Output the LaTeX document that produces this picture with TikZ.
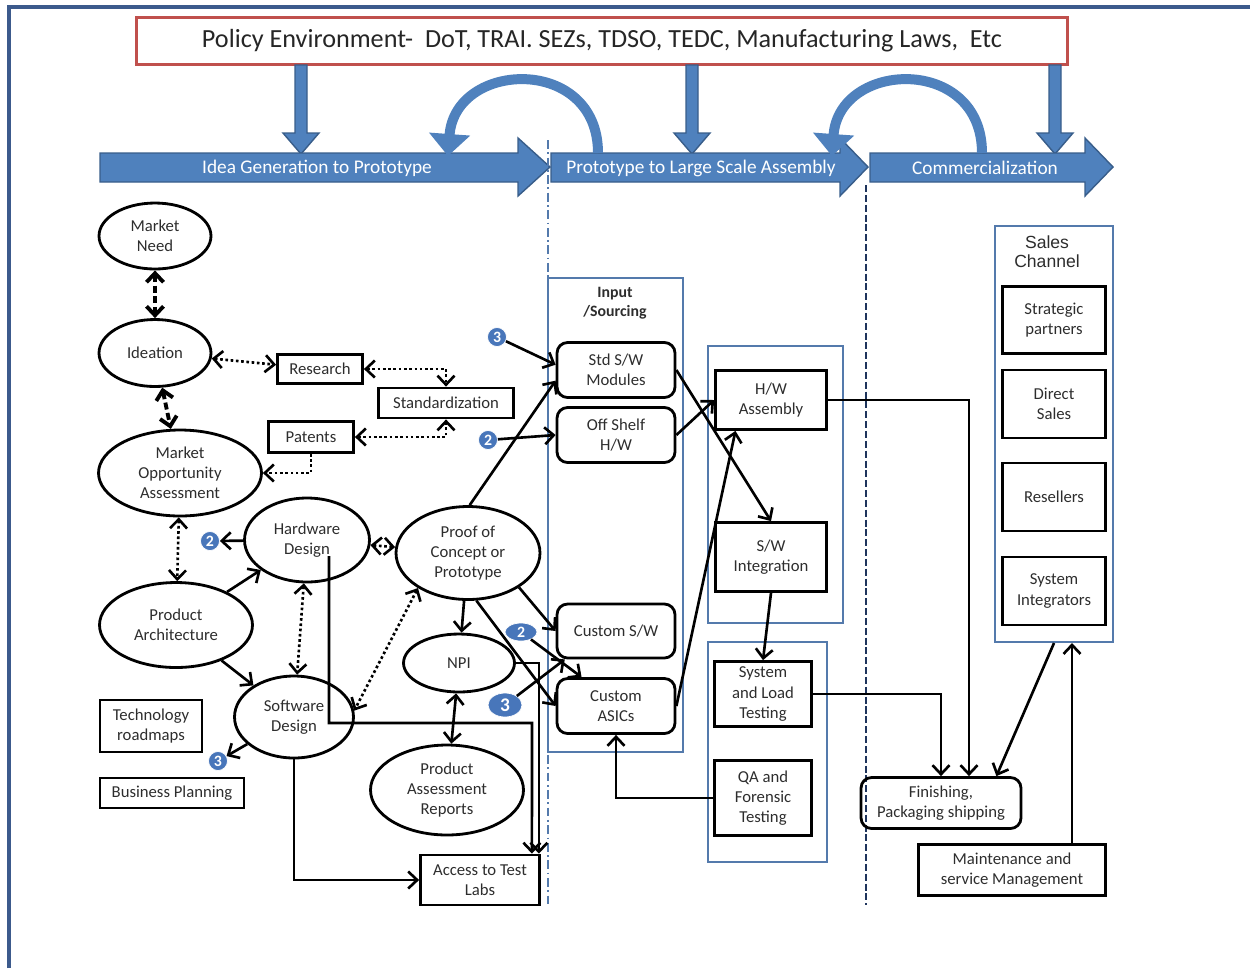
\documentclass[tikz,border=0pt]{standalone}
\usepackage{fontspec}
\setmainfont{Carlito}
\newfontfamily\arialfont{Liberation Sans}
\usetikzlibrary{calc,positioning,shapes.geometric,arrows.meta}

\definecolor{bannerblue}{RGB}{79,129,189}
\definecolor{bannerdark}{RGB}{56,93,138}
\definecolor{policyred}{RGB}{192,80,77}
\definecolor{framecol}{RGB}{60,90,140}
\definecolor{groupblue}{RGB}{84,122,172}
\definecolor{navyline}{RGB}{30,52,92}
\definecolor{badgeblue}{RGB}{72,118,186}
\definecolor{txtgray}{RGB}{45,45,45}

\begin{document}
\begin{tikzpicture}[x=0.02cm,y=-0.02cm]

    \tikzstyle{ovalnode}=[draw,ellipse,line width=1.6pt,inner sep=0pt,align=center,text=txtgray,font=\fontsize{9.5}{11.4}\selectfont]
    \tikzstyle{boxnode}=[draw,rectangle,line width=1.6pt,inner sep=1pt,align=center,text=txtgray,font=\fontsize{9.5}{11.4}\selectfont]
    \tikzstyle{roundbox}=[boxnode,rounded corners=6pt]
    \tikzstyle{groupbox}=[draw=groupblue,rectangle,line width=1.2pt,inner sep=0pt]
    \tikzstyle{badge}=[circle,fill=badgeblue,draw=white,thin,inner sep=0pt,minimum size=0.38cm,text=white,font=\fontsize{9}{10}\selectfont\bfseries]
    \tikzstyle{bannerarrow}=[fill=bannerblue,draw=bannerdark,line width=0.8pt]
    \tikzstyle{bannertext}=[text=white,font=\fontsize{11}{13}\selectfont]
    \tikzstyle{conn}=[line width=1.5pt,>={Straight Barb[length=1.8mm,width=3.4mm]}]
    \tikzstyle{dotconn}=[conn,dash pattern=on 1.5pt off 1.5pt]
    \tikzstyle{dashconn}=[conn,line width=2.2pt,dash pattern=on 4pt off 2pt]

    \useasboundingbox (0,0) rectangle (1250,968);

    % frame
    \draw[framecol,line width=0.08cm] (9,968) -- (9,7) -- (1250,7);

    % policy and stages
    \node (policy) [draw=policyred,line width=0.06cm,fill=white,minimum width=18.62cm,minimum height=0.94cm,font=\fontsize{14.9}{16}\selectfont,text=black!85] at (602,41) {Policy Environment-\ \ DoT, TRAI. SEZs, TDSO, TEDC, Manufacturing Laws,\ \ Etc};

    \foreach \xa in {301,692,1055}
        \filldraw[bannerarrow] (\xa-6,65) -- (\xa+6,65) -- (\xa+6,133) -- (\xa+18,133) -- (\xa,154) -- (\xa-18,133) -- (\xa-6,133) -- cycle;

    \filldraw[bannerarrow] (100,153) -- (518,153) -- (518,138) -- (550,167) -- (518,196) -- (518,182) -- (100,182) -- cycle;
    \filldraw[bannerarrow] (551,153) -- (840,153) -- (840,138) -- (868,167) -- (840,196) -- (840,182) -- (551,182) -- cycle;
    \filldraw[bannerarrow] (870,153) -- (1085,153) -- (1085,138) -- (1113,167) -- (1085,196) -- (1085,182) -- (870,182) -- cycle;

    \node (stage_1) [bannertext] at (317,168) {Idea Generation to Prototype};
    \node (stage_2) [bannertext] at (701,168) {Prototype to Large Scale Assembly};
    \node (stage_3) [bannertext] at (985,168) {Commercialization};

    \draw[bannerblue,line width=0.2cm,-{Triangle[length=0.44cm,width=0.8cm]}] (598,153) .. controls (598,55) and (455,60) .. (448,156);
    \draw[bannerblue,line width=0.2cm,-{Triangle[length=0.44cm,width=0.8cm]}] (982,153) .. controls (982,55) and (839,60) .. (832,156);

    \draw[groupblue,line width=1pt,dash pattern=on 5pt off 2pt on 1pt off 2pt] (548,140) -- (548,905);
    \draw[navyline,line width=1.6pt,dash pattern=on 4pt off 1.6pt] (866,185) -- (866,905);

    % idea generation
    \node (market_need) [ovalnode,minimum width=2.24cm,minimum height=1.32cm] at (155,236) {Market\\Need};
    \node (ideation) [ovalnode,minimum width=2.24cm,minimum height=1.34cm] at (155,353) {Ideation};
    \node (market_opp) [ovalnode,minimum width=3.26cm,minimum height=1.72cm] at (180,473) {Market\\Opportunity\\Assessment};
    \node (hw_design) [ovalnode,minimum width=2.5cm,minimum height=1.68cm] at (307,540) {Hardware\\Design};
    \node (poc) [ovalnode,minimum width=2.88cm,minimum height=1.86cm] at (468,553) {Proof of\\Concept or\\Prototype};
    \node (prod_arch) [ovalnode,minimum width=3.06cm,minimum height=1.7cm] at (176,625) {Product\\Architecture};
    \node (npi) [ovalnode,minimum width=2.22cm,minimum height=1.16cm] at (459,663) {NPI};
    \node (sw_design) [ovalnode,minimum width=2.38cm,minimum height=1.64cm] at (294,717) {Software\\Design};
    \node (par) [ovalnode,minimum width=3.06cm,minimum height=1.8cm] at (447,790) {Product\\Assessment\\Reports};

    \node (research) [boxnode,minimum width=1.7cm,minimum height=0.58cm] at (320,369) {Research};
    \node (standard) [boxnode,minimum width=2.7cm,minimum height=0.6cm] at (446,403) {Standardization};
    \node (patents) [boxnode,minimum width=1.7cm,minimum height=0.62cm] at (311,437) {Patents};
    \node (tech_road) [boxnode,minimum width=2.04cm,minimum height=1.04cm] at (151,726) {Technology\\roadmaps};
    \node (bus_plan) [boxnode,minimum width=2.88cm,minimum height=0.6cm] at (172,793) {Business Planning};
    \node (test_labs) [boxnode,minimum width=2.38cm,minimum height=1cm] at (480,880) {Access to Test\\Labs};

    \node (num3_std) [badge] at (497,337) {3};
    \node (num2_off) [badge] at (488,440) {2};
    \node (num2_hw) [badge] at (210,541) {2};
    \node (num2_asic) [badge,ellipse,minimum width=0.64cm,minimum height=0.36cm] at (521,632) {2};
    \node (num3_csw) [badge,ellipse,minimum width=0.68cm,minimum height=0.48cm,font=\fontsize{11}{12}\selectfont\bfseries] at (505,705) {3};
    \node (num3_swd) [badge] at (218,761) {3};

    % large scale assembly
    \node (input_box) [groupbox,minimum width=2.7cm,minimum height=9.48cm] at (615.5,515) {};
    \node (input_title) [align=center,text=txtgray,font=\fontsize{9}{11}\selectfont\bfseries] at (615,303) {Input\\/Sourcing};
    \node (std_sw) [roundbox,minimum width=2.36cm,minimum height=1.1cm] at (616,370) {Std S/W\\Modules};
    \node (off_shelf) [roundbox,minimum width=2.36cm,minimum height=1.1cm] at (616,435) {Off Shelf\\H/W};
    \node (custom_sw) [roundbox,minimum width=2.36cm,minimum height=1.08cm] at (616,631) {Custom S/W};
    \node (custom_asic) [roundbox,minimum width=2.36cm,minimum height=1.1cm] at (616,706) {Custom\\ASICs};

    \node (assembly_box) [groupbox,minimum width=2.7cm,minimum height=5.54cm] at (775.5,484.5) {};
    \node (hw_assembly) [boxnode,minimum width=2.22cm,minimum height=1.18cm] at (771,400) {H/W\\Assembly};
    \node (sw_integ) [boxnode,minimum width=2.22cm,minimum height=1.38cm] at (771,557) {S/W\\Integration};

    \node (testing_box) [groupbox,minimum width=2.38cm,minimum height=4.4cm] at (767.5,752) {};
    \node (sys_load) [boxnode,minimum width=1.94cm,minimum height=1.3cm] at (763,694) {System\\and Load\\Testing};
    \node (qa_test) [boxnode,minimum width=1.94cm,minimum height=1.5cm] at (763,798) {QA and\\Forensic\\Testing};

    % commercialization
    \node (sales_box) [groupbox,minimum width=2.36cm,minimum height=8.32cm] at (1054,434) {};
    \node (sales_title) [align=center,text=txtgray,font=\arialfont\fontsize{10}{10.6}\selectfont] at (1047,252) {Sales\\Channel};
    \node (strat) [boxnode,minimum width=2.06cm,minimum height=1.34cm] at (1054,320) {Strategic\\partners};
    \node (direct) [boxnode,minimum width=2.06cm,minimum height=1.36cm] at (1054,404) {Direct\\Sales};
    \node (resellers) [boxnode,minimum width=2.06cm,minimum height=1.36cm] at (1054,497) {Resellers};
    \node (sys_integ) [boxnode,minimum width=2.06cm,minimum height=1.36cm] at (1054,591) {System\\Integrators};
    \node (finishing) [roundbox,minimum width=3.2cm,minimum height=1.02cm] at (941,803) {Finishing,\\Packaging shipping};
    \node (maint) [boxnode,minimum width=3.74cm,minimum height=1.02cm] at (1012,870) {Maintenance and\\service Management};

    \coordinate (hw_tap) at (329,556);
    \coordinate (hw_bend) at (532,723);

    % links
    \draw[dashconn,<->] (market_need) -- (ideation);
    \draw[dashconn,<->] (ideation) -- (market_opp);
    \draw[dotconn,<->] (ideation) -- (research);
    \draw[dotconn,<->] (research.east) -| (standard.north);
    \draw[dotconn,<->] (patents.east) -| (standard.south);
    \draw[dotconn,->] (patents.south) |- (market_opp.east);
    \draw[dotconn,<->] (market_opp) -- (prod_arch);
    \draw[conn,->] (hw_design) -- (num2_hw);
    \draw[dotconn,<->] (hw_design) -- (poc);
    \draw[conn,->] (prod_arch) -- (hw_design);
    \draw[conn,->] (prod_arch) -- (sw_design);
    \draw[dotconn,<->] (hw_design) -- (sw_design);
    \draw[dotconn,<->] (poc.215) -- (sw_design.6);
    \draw[conn,->] (poc) -- (npi);
    \draw[conn,<->] (npi) -- (par);
    \draw[conn,->] (sw_design) -- (num3_swd);
    \draw[conn,->] (poc.88) -- (std_sw.190);
    \draw[conn,->] (num3_std) -- (std_sw.175);
    \draw[conn,->] (num2_off) -- (off_shelf.west);
    \draw[conn,->] (poc.326) -- (custom_sw.west);
    \draw[conn,->] (poc.280) -- (custom_asic.west);
    \draw[conn,->] (num2_asic) -- (custom_asic.140);
    \draw[conn,->] (num3_csw) -- (custom_sw.209);
    \draw[conn,->] (npi.east) -| ($(test_labs.north east)+(-2,0)$);
    \draw[conn,->] (hw_tap) |- (hw_bend) -- ($(test_labs.north east)+(-9,0)$);
    \draw[conn,->] (sw_design.south) |- (test_labs.west);

    \draw[conn,->] (std_sw.east) -- (sw_integ.north);
    \draw[conn,->] (off_shelf.east) -- (hw_assembly.west);
    \draw[conn,->] (custom_asic.east) -- (hw_assembly.221);
    \draw[conn,->] (sw_integ.south) -- (sys_load.north);
    \draw[conn,->] (qa_test.west) -| (custom_asic.south);

    \draw[conn,->] (hw_assembly.east) -| ($(finishing.north)+(28,0)$);
    \draw[conn,->] (sys_load.east) -| (finishing.north);
    \draw[conn,->] (sales_box.south) -- ($(finishing.north east)+(-26,0)$);
    \draw[conn,->] ($(maint.north)+(60,0)$) -- ($(sales_box.south)+(18,0)$);

\end{tikzpicture}
\end{document}
